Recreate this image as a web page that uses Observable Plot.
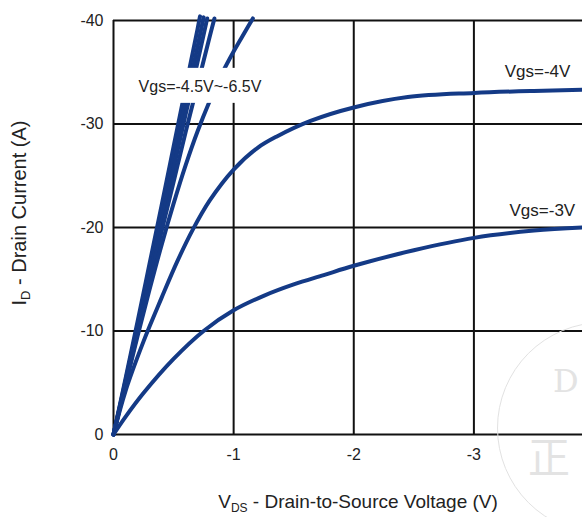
<!DOCTYPE html>
<html><head><meta charset="utf-8">
<script src="https://cdn.jsdelivr.net/npm/d3@7"></script>
<script src="https://cdn.jsdelivr.net/npm/@observablehq/plot@0.6"></script>
<style>
body{margin:0;background:#fff;}
#chart{position:relative;width:582px;height:517px;overflow:hidden;background:#fff;}
#chart svg{position:absolute;left:0;top:0;}
.wm-circle{position:absolute;left:497px;top:322px;width:210px;height:210px;border:1.5px solid #e2e2e2;border-radius:50%;}
.wm-t{position:absolute;color:#e3e3e3;font-family:"DejaVu Serif",serif;}
</style>
</head><body><div id="chart"></div>
<script>
// axis ticks
const xTicks = [0, -1, -2, -3];
const yTicks = [0, -10, -20, -30, -40];

// curves: Vds (V) and Id (A)
const vds_6_5 = [0, -0.1, -0.2, -0.3, -0.4, -0.5, -0.6, -0.7, -0.72];
const id_6_5  = [0, -5.4, -10.9, -16.5, -22.1, -27.8, -33.5, -39.2, -40.4];
const vds_6   = [0, -0.1, -0.2, -0.3, -0.4, -0.5, -0.6, -0.7, -0.75];
const id_6    = [0, -5.2, -10.5, -15.9, -21.3, -26.7, -32.1, -37.5, -40.3];
const vds_5_5 = [0, -0.1, -0.2, -0.3, -0.4, -0.5, -0.6, -0.7, -0.78];
const id_5_5  = [0, -5.0, -10.1, -15.3, -20.5, -25.7, -30.9, -36.0, -40.2];
const vds_5   = [0, -0.1, -0.2, -0.3, -0.4, -0.5, -0.6, -0.7, -0.8, -0.84];
const id_5    = [0, -4.9, -9.8, -14.7, -19.6, -24.4, -29.2, -33.8, -38.4, -40.2];
const vds_4_5 = [0, -0.1, -0.2, -0.3, -0.4, -0.5, -0.6, -0.7, -0.8, -0.9, -1.0, -1.1, -1.16];
const id_4_5  = [0, -4.8, -9.5, -14.0, -18.3, -22.3, -26.0, -29.3, -32.2, -34.8, -37.0, -39.0, -40.2];
const vds_4   = [0, -0.1, -0.25, -0.4, -0.53, -0.66, -0.8, -1.0, -1.2, -1.36, -1.64, -2.0, -2.45, -3.0, -3.5, -3.9];
const id_4    = [0, -4.2, -9.0, -13.2, -16.7, -19.8, -22.6, -25.6, -27.7, -28.8, -30.3, -31.6, -32.6, -33.0, -33.2, -33.3];
const vds_3   = [0, -0.1, -0.25, -0.5, -0.75, -1.0, -1.25, -1.5, -1.75, -2.0, -2.5, -3.0, -3.5, -3.9];
const id_3    = [0, -1.7, -4.0, -7.3, -10.0, -12.0, -13.4, -14.5, -15.4, -16.3, -17.8, -19.0, -19.7, -20.0];

const seriesNames = ["-6.5V", "-6V", "-5.5V", "-5V", "-4.5V", "-4V", "-3V"];
const seriesVds = [vds_6_5, vds_6, vds_5_5, vds_5, vds_4_5, vds_4, vds_3];
const seriesId  = [id_6_5, id_6, id_5_5, id_5, id_4_5, id_4, id_3];

// curve labels
const labelTexts = ["Vgs=-4.5V~-6.5V", "Vgs=-4V", "Vgs=-3V"];
const labelVds   = [-0.72, -3.53, -3.57];
const labelId    = [-33.6, -35.1, -21.6];

const rows = [];
seriesNames.forEach((s, k) => seriesVds[k].forEach((v, j) => rows.push({s, v, i: seriesId[k][j]})));
const labels = labelTexts.map((t, k) => ({t, v: labelVds[k], i: labelId[k]}));

const plot = Plot.plot({
  width: 582, height: 517,
  marginLeft: 113, marginTop: 20, marginBottom: 83, marginRight: 0,
  style: {fontFamily: "'Liberation Sans', Arial, sans-serif", fontSize: "16px", color: "#222", background: "white"},
  x: {domain: [0, -3.904], ticks: xTicks, tickSize: 0, tickPadding: 14, label: null, tickFormat: d => String(d)},
  y: {domain: [0, -40], ticks: yTicks, tickSize: 0, tickPadding: 10, label: null, tickFormat: d => String(d)},
  marks: [
    Plot.gridX(xTicks, {stroke: "#111", strokeOpacity: 1, strokeWidth: 2}),
    Plot.gridY(yTicks, {stroke: "#111", strokeOpacity: 1, strokeWidth: 2}),
    Plot.line(rows, {x: "v", y: "i", z: "s", stroke: "#143a86", strokeWidth: 4, curve: "catmull-rom"}),
    Plot.text(labels.slice(0, 1), {x: "v", y: "i", text: "t", fill: "#222", fontSize: 16, className: "lab-long"}),
    Plot.text(labels.slice(1), {x: "v", y: "i", text: "t", fill: "#222", fontSize: 17})
  ]
});

const chart = document.getElementById("chart");
chart.appendChild(plot);
const svg = d3.select(plot);

// white box behind the long label (interrupts curves and grid like the reference)
svg.selectAll(".lab-long text").each(function () {
  const b = this.getBBox();
  const w = b.width || 139, h = b.height || 18;
  const bx = b.width ? b.x : -w / 2, by = b.height ? b.y : -h / 2;
  const tr = this.getAttribute("transform");
  const r = d3.select(this.parentNode).insert("rect", () => this)
    .attr("x", bx - 3).attr("y", by - 10).attr("width", w + 6).attr("height", h + 18)
    .attr("fill", "white").attr("stroke", "none");
  if (tr) r.attr("transform", tr);
});

const yl = svg.append("text").attr("transform", "translate(26,213) rotate(-90)")
  .attr("text-anchor", "middle").attr("fill", "#222").style("font-size", "20px");
yl.append("tspan").text("I");
yl.append("tspan").attr("font-size", "13px").attr("dy", "4").text("D");
yl.append("tspan").attr("dy", "-4").text(" - Drain Current (A)");

const xl = svg.append("text").attr("x", 358).attr("y", 508)
  .attr("text-anchor", "middle").attr("fill", "#222").style("font-size", "19px");
xl.append("tspan").text("V");
xl.append("tspan").attr("font-size", "12px").attr("dy", "4").text("DS");
xl.append("tspan").attr("dy", "-4").text(" - Drain-to-Source Voltage (V)");

// faint watermark
const wm = document.createElement("div"); wm.className = "wm-circle"; chart.appendChild(wm);
const t1 = document.createElement("div"); t1.className = "wm-t"; t1.textContent = "D";
t1.style.cssText = "left:553px;top:362px;font-size:32px;"; chart.appendChild(t1);
const t2 = document.createElement("div"); t2.className = "wm-t"; t2.textContent = "正";
t2.style.cssText = "left:528px;top:424px;font-size:42px;font-family:'Noto Sans CJK SC',serif;"; chart.appendChild(t2);
</script>
</body></html>
